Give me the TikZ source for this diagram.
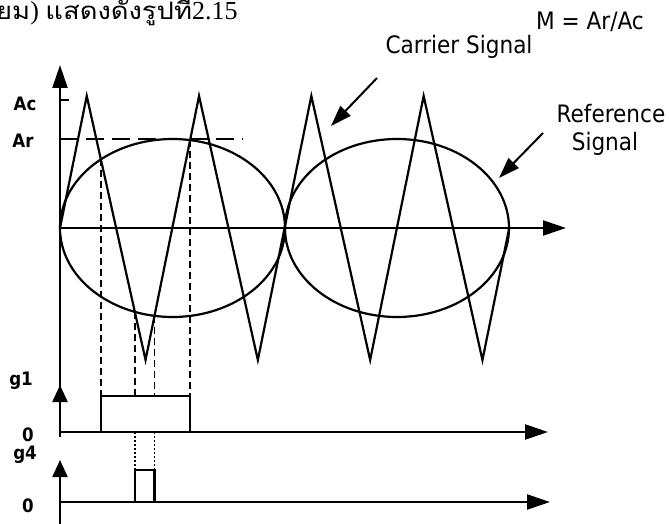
\documentclass[tikz,border=0pt]{standalone}
\usepackage{fontspec}
\setmainfont{DejaVu Sans Condensed}
\newfontfamily\thaifont[Script=Thai, FakeStretch=1.14]{Loma}
\newfontfamily\serifnum{Liberation Serif}
\usetikzlibrary{arrows.meta}
\tikzset{
  axisline/.style={line width=2.2pt},
  sig/.style={line width=2.2pt, line join=miter},
  bigarrow/.style={-{Triangle[length=23pt,width=15pt]}},
  smallarrow/.style={-{Triangle[length=17pt,width=15pt]}},
  ptr/.style={line width=2pt, -{Triangle[length=21pt,width=14pt]}},
  guide/.style={line width=1.5pt, dash pattern=on 7pt off 4pt},
  dotguide/.style={line width=1.5pt, dash pattern=on 2pt off 2pt},
  arline/.style={line width=1.8pt, dash pattern=on 18pt off 8pt},
  lbl/.style={font=\bfseries\fontsize{18.5}{18.5}\selectfont, inner sep=0pt},
  big/.style={font=\fontsize{24}{24}\selectfont, inner sep=0pt, anchor=base},
}
\begin{document}
\begin{tikzpicture}[x=1pt,y=-1pt]
\useasboundingbox (0,0) rectangle (669,524);
% named coordinates
\coordinate (O) at (60,228);
\coordinate (Ytop) at (60,65);
\coordinate (Ybot) at (60,437);
\coordinate (Xend) at (566,228);
\coordinate (G1a) at (60,432);
\coordinate (G1tip) at (60,385);
\coordinate (G1s) at (60,420);
\coordinate (G1end) at (548,432);
\coordinate (G4a) at (60,502);
\coordinate (G4tip) at (60,460);
\coordinate (G4bot) at (60,524);
\coordinate (G4end) at (550,502);
\coordinate (AcT) at (69,100);
\coordinate (AcS) at (60,100);
\coordinate (ArS) at (60,139);
\coordinate (ArE) at (243,139);
% intersections (computed)
\coordinate (i1) at (100.8,159);
\coordinate (i2) at (190.1,140);
\coordinate (i3) at (134.9,312);
\coordinate (i4) at (154.5,316);

% axes
\draw[axisline,bigarrow] (Ybot) -- (Ytop);
\draw[axisline,bigarrow] (O) -- (Xend);
\draw[axisline,smallarrow] (G1s) -- (G1tip);
\draw[axisline,bigarrow] (G1a) -- (G1end);
\draw[axisline,smallarrow] (G4bot) -- (G4tip);
\draw[axisline,bigarrow] (G4a) -- (G4end);
\draw[axisline] (AcS) -- (AcT);
\draw[arline] (ArS) -- (ArE);

% reference signal
\draw[sig] (172.5,228) ellipse [x radius=112.5, y radius=89];
\draw[sig] (397,228) ellipse [x radius=112, y radius=89];

% carrier
\draw[sig] (O) -- (86.75,96) -- (145.55,360) -- (199.05,96) -- (257.85,360)
  -- (311.35,96) -- (370.15,360) -- (423.65,96) -- (482.45,360) -- (509.2,228);

% guides
\draw[guide] (i1) -- (100.8,396);
\draw[guide] (i2) -- (190.1,396);
\draw[guide] (i3) -- (134.9,396);
\draw[guide] (i4) -- (154.5,396);
\draw[dotguide] (134.9,432) -- (134.9,470);
\draw[dotguide] (154.5,432) -- (154.5,470);

% pulses
\draw[sig] (100.8,432) -- (100.8,396) -- (190.1,396) -- (190.1,432);
\draw[sig] (134.9,502) -- (134.9,470) -- (154.5,470) -- (154.5,502);

% labels
\node[lbl] (lAc) at (25,104) {Ac};
\node[lbl] (lAr) at (23,141) {Ar};
\node[lbl] (lg1) at (21,381) {g1};
\node[lbl] (l01) at (28,435) {0};
\node[lbl] (lg4) at (25,455) {g4};
\node[lbl] (l04) at (28,506) {0};

\node[big] (carrier) at (459,54) {Carrier Signal};
\node[big] (mtext) at (590,30) {M = Ar/Ac};
\node[big] (ref1) at (611,123) {Reference};
\node[big] (ref2) at (605,150) {Signal};
\coordinate (cs) at (377,78);
\coordinate (ct) at (331,126);
\coordinate (rs) at (543,133);
\coordinate (rt) at (499,178);
\draw[ptr] (cs) -- (ct);
\draw[ptr] (rs) -- (rt);

\node[anchor=base west, inner sep=0pt] (thai) at (-4,19.5)
  {\fontsize{24}{24}\selectfont\thaifont ยม\serifnum\fontsize{26}{26}\selectfont) \thaifont\fontsize{24}{24}\selectfont แสดงดังรูปที่\serifnum\fontsize{26}{26}\selectfont 2.15};
\end{tikzpicture}
\end{document}
